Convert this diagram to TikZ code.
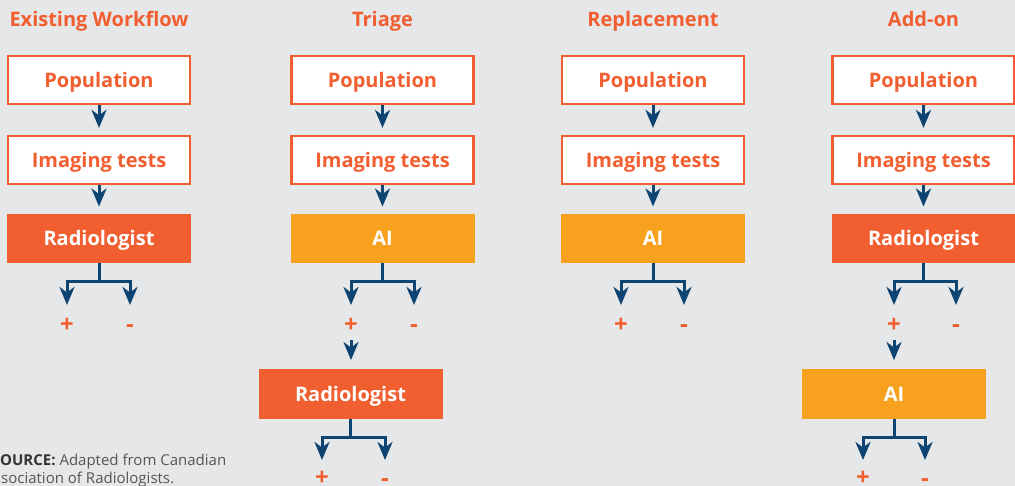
\documentclass[tikz,border=0pt]{standalone}
\usepackage{fontspec}
\setmainfont{Open Sans}
\usetikzlibrary{arrows.meta,calc}
\definecolor{bg}{HTML}{E6E7E8}
\definecolor{org}{HTML}{F15E30}
\definecolor{amb}{HTML}{F7A11E}
\definecolor{navy}{HTML}{0D4471}
\definecolor{srcgray}{HTML}{555557}
\begin{document}
\begin{tikzpicture}[x=1pt,y=-1pt,
  lbl/.style={font=\bfseries\fontsize{20}{24}\selectfont, inner sep=0pt, text height=15pt, text depth=0pt},
  outbox/.style={lbl, draw=org, line width=2.2pt, fill=white, text=org, minimum width=182pt, minimum height=48pt},
  radbox/.style={lbl, fill=org, text=white, minimum width=184pt, minimum height=49.5pt},
  aibox/.style={lbl, fill=amb, text=white, minimum width=184pt, minimum height=49.5pt},
  ttl/.style={font=\bfseries\fontsize{20}{24}\selectfont, text=org, anchor=base, inner sep=0pt},
  sign/.style={font=\bfseries\fontsize{24}{26}\selectfont, text=org, minimum size=10pt, inner sep=0pt},
  arr/.style={draw=navy, line width=3pt, -{Stealth[length=18pt 0 0,width=15pt 0 0,inset=5.5pt 0]}},
  down/.style={arr, shorten >=7pt},
  fork/.style={arr, shorten >=#1},
  src/.style={font=\fontsize{15}{18}\selectfont, text=srcgray, anchor=base west, inner sep=0pt}
]
\fill[bg] (0,0) rectangle (1015,486);
\useasboundingbox (0,0) rectangle (1015,486);

% titles
\node[ttl] (t1) at (99,27) {Existing Workflow};
\node[ttl] (t2) at (382.5,27) {Triage};
\node[ttl] (t3) at (653,27) {Replacement};
\node[ttl] (t4) at (923.5,27) {Add-on};

% column 1
\node[outbox] (p1) at (99,80) {Population};
\node[outbox] (i1) at (99,160) {Imaging tests};
\node[radbox] (r1) at (99,238.5) {Radiologist};
\node[sign] (a1) at (67,325.5) {+};
\node[sign] (b1) at (130,328.5) {-};
\draw[down] (p1) -- (i1);
\draw[down] (i1) -- (r1);
\draw[fork=20.5pt] (r1.south) -- ++(0,18.5) -| (a1.center);
\draw[fork=23.5pt] (r1.south) -- ++(0,18.5) -| (b1.center);

% column 2
\node[outbox] (p2) at (382.5,80) {Population};
\node[outbox] (i2) at (382.5,160) {Imaging tests};
\node[aibox] (r2) at (382.5,238.5) {AI};
\node[sign] (a2) at (351,325.5) {+};
\node[sign] (b2) at (414,328.5) {-};
\node[radbox] (s2) at (350.5,394) {Radiologist};
\node[sign] (c2) at (322,478) {+};
\node[sign] (d2) at (385,482.5) {-};
\draw[down] (p2) -- (i2);
\draw[down] (i2) -- (r2);
\draw[fork=20.5pt] (r2.south) -- ++(0,18.5) -| (a2.center);
\draw[fork=23.5pt] (r2.south) -- ++(0,18.5) -| (b2.center);
\draw[arr, shorten <=7.5pt, shorten >=9pt] (a2) -- (a2 |- s2.north);
\draw[fork=18pt] (s2.south) -- ++(0,18.5) -| (c2.center);
\draw[fork=22.5pt] (s2.south) -- ++(0,18.5) -| (d2.center);

% column 3
\node[outbox] (p3) at (653,80) {Population};
\node[outbox] (i3) at (653,160) {Imaging tests};
\node[aibox] (r3) at (653,238.5) {AI};
\node[sign] (a3) at (621,325.5) {+};
\node[sign] (b3) at (684,328.5) {-};
\draw[down] (p3) -- (i3);
\draw[down] (i3) -- (r3);
\draw[fork=20.5pt] (r3.south) -- ++(0,18.5) -| (a3.center);
\draw[fork=23.5pt] (r3.south) -- ++(0,18.5) -| (b3.center);

% column 4
\node[outbox] (p4) at (923.5,80) {Population};
\node[outbox] (i4) at (923.5,160) {Imaging tests};
\node[radbox] (r4) at (923.5,238.5) {Radiologist};
\node[sign] (a4) at (894,325.5) {+};
\node[sign] (b4) at (956,328.5) {-};
\node[aibox] (s4) at (894,394) {AI};
\node[sign] (c4) at (863,478) {+};
\node[sign] (d4) at (925,482.5) {-};
\draw[down] (p4) -- (i4);
\draw[down] (i4) -- (r4);
\draw[fork=20.5pt] (r4.south) -- ++(0,18.5) -| (a4.center);
\draw[fork=23.5pt] (r4.south) -- ++(0,18.5) -| (b4.center);
\draw[arr, shorten <=7.5pt, shorten >=9pt] (a4) -- (a4 |- s4.north);
\draw[fork=18pt] (s4.south) -- ++(0,18.5) -| (c4.center);
\draw[fork=22.5pt] (s4.south) -- ++(0,18.5) -| (d4.center);

% source
\node[src] (src1) at (0,465) {\textbf{\color{black!80}OURCE:} Adapted from Canadian};
\node[src] (src2) at (1,483) {sociation of Radiologists.};
\end{tikzpicture}
\end{document}
